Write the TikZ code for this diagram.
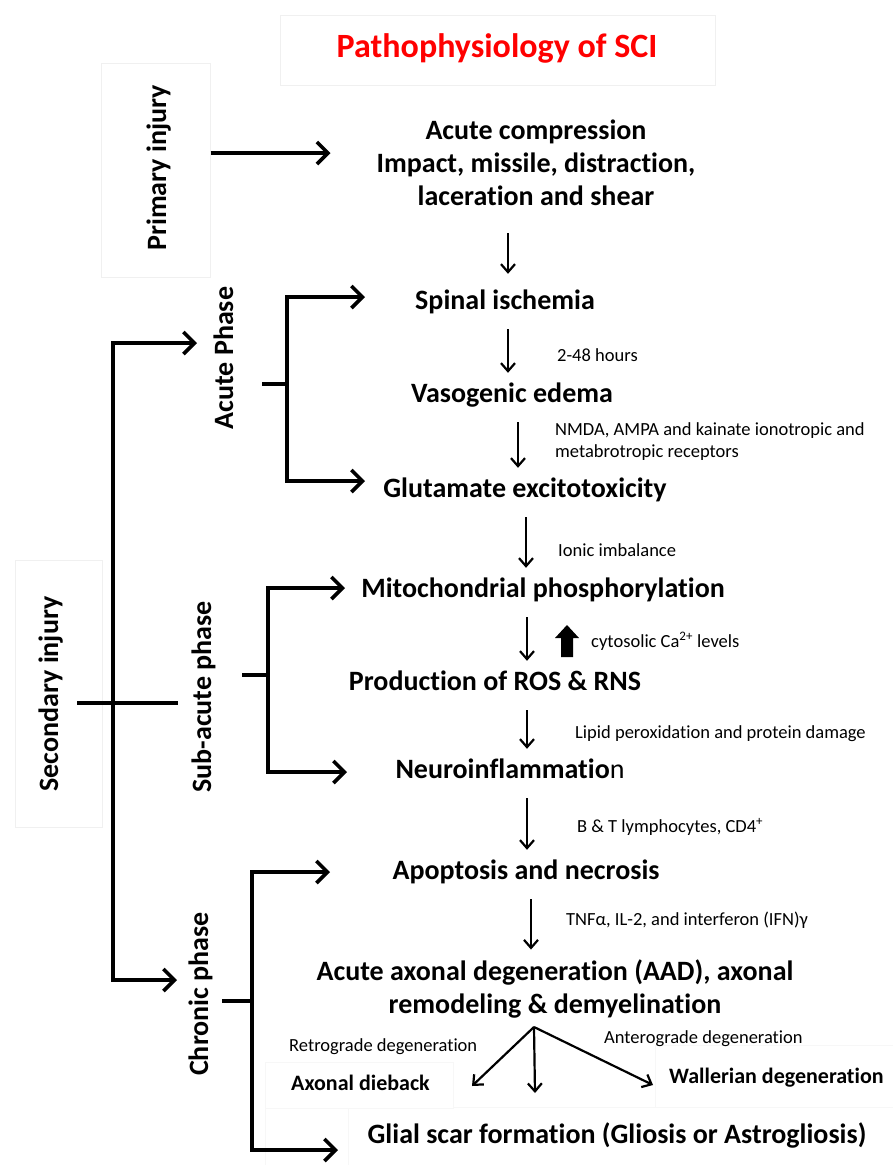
\documentclass[tikz,border=0pt]{standalone}
\usepackage{fontspec}
\setmainfont{Carlito}[Ligatures=NoCommon]
\usetikzlibrary{arrows.meta,calc}

\begin{document}
\begin{tikzpicture}[x=1pt,y=-1pt]
 \tikzstyle{stage} = [font=\fontsize{28}{33}\selectfont\bfseries,inner sep=0,anchor=base,text height=19pt,text depth=6pt]
 \tikzstyle{block} = [font=\fontsize{28}{33}\selectfont\bfseries,inner sep=0,align=center]
 \tikzstyle{note} = [font=\fontsize{18.5}{22}\selectfont,inner sep=0,anchor=base west]
 \tikzstyle{phase} = [font=\fontsize{28}{33}\selectfont\bfseries,inner sep=0,anchor=base,rotate=90]
 \tikzstyle{faint} = [draw=black!6,line width=1pt]
 \tikzstyle{bar} = [line width=3.6pt]
 \tikzstyle{brk} = [line width=3.6pt,-{Straight Barb[length=11pt,width=22pt]}]
 \tikzstyle{dn} = [line width=2.2pt,-{Straight Barb[length=8pt,width=14pt]},shorten <=14pt,shorten >=10pt]

 \useasboundingbox (0,0) rectangle (893,1165);

 % faint frames
 \draw[faint] (280,15) rectangle (715,85);
 \node[faint,minimum width=109,minimum height=214] (pbox) at (155.5,170) {};
 \draw[faint] (15,560) rectangle (102,827);
 \draw[faint,draw=black!3] (265,1062) rectangle (453,1108);
 \draw[faint,draw=black!3] (655,1045) rectangle (893,1107);
 \draw[faint,draw=black!3] (453,1107) -- (655,1107);
 \draw[faint,draw=black!3] (265,1108) rectangle (348,1165);

 % title
 \node[block,text=red,font=\fontsize{34}{40}\selectfont\bfseries,anchor=base] (title) at (497,57) {Pathophysiology of SCI};

 % cascade
 \node[block] (acomp) at (536,163) {Acute compression\\Impact, missile, distraction,\\laceration and shear};
 \node[stage] (spinal) at (505,309) {Spinal ischemia};
 \node[stage] (vaso) at (512,402) {Vasogenic edema};
 \node[stage] (gluta) at (525,497) {Glutamate excitotoxicity};
 \node[stage] (mito) at (543,597) {Mitochondrial phosphorylation};
 \node[stage] (ros) at (495,690) {Production of ROS \& RNS};
 \node[stage] (neuro) at (510,778) {Neuroinflammatio{\mdseries n}};
 \node[stage] (apop) at (526,879) {Apoptosis and necrosis};
 \node[block] (aad) at (555,989) {Acute axonal degeneration (AAD), axonal\\remodeling \& demyelination};
 \node[stage,font=\fontsize{22}{26}\selectfont\bfseries,anchor=base west] (dieback) at (291,1090) {Axonal dieback};
 \node[stage,font=\fontsize{22}{26}\selectfont\bfseries,anchor=base west] (waller) at (669,1083) {Wallerian degeneration};
 \node[stage] (glial) at (617,1143) {Glial scar formation (Gliosis or Astrogliosis)};

 % side notes
 \node[note] (hrs) at (557,361) {2-48 hours};
 \node[note,anchor=north west,align=left] (recep) at (555,422) {NMDA, AMPA and kainate ionotropic and\\metabrotropic receptors};
 \node[note] (ionic) at (558,556) {Ionic imbalance};
 \node[note] (ca) at (591,647) {cytosolic Ca\textsuperscript{2+} levels};
 \node[note] (lipid) at (575,738) {Lipid peroxidation and protein damage};
 \node[note] (lymph) at (577,832) {B \& T lymphocytes, CD4\textsuperscript{+}};
 \node[note] (tnf) at (566,925) {TNFα, IL-2, and interferon (IFN)γ};
 \node[note] (retro) at (289,1051) {Retrograde degeneration};
 \node[note] (antero) at (604,1043) {Anterograde degeneration};
 \fill (561,657) -- (561,638) -- (555,638) -- (567,625) -- (579,638) -- (573,638) -- (573,657) -- cycle;

 % phases
 \node[phase] (prim) at (166,168) {Primary injury};
 \node[phase] (sec) at (58,694) {Secondary injury};
 \node[phase] (acute) at (233,358) {Acute Phase};
 \node[phase] (subac) at (211,697) {Sub-acute phase};
 \node[phase] (chron) at (208,994) {Chronic phase};

 % down the cascade
 \draw[dn,shorten <=27pt,shorten >=16pt] (acomp.south -| 508,0) -- (spinal.north -| 508,0);
 \draw[dn] (spinal.south -| 508,0) -- (vaso.north -| 508,0);
 \draw[dn] (vaso.south -| 518,0) -- (gluta.north -| 518,0);
 \draw[dn] (gluta.south -| 526,0) -- (mito.north -| 526,0);
 \draw[dn] (mito.south -| 527,0) -- (ros.north -| 527,0);
 \draw[dn] (ros.south -| 527,0) -- (neuro.north -| 527,0);
 \draw[dn] (neuro.south -| 527,0) -- (apop.north -| 527,0);
 \draw[dn] (apop.south -| 531,0) -- (aad.north -| 531,0);

 % fork under AAD
 \coordinate (fork) at (534,1027);
 \coordinate (tipl) at (472,1086);
 \coordinate (tipd) at (535,1093);
 \coordinate (tipr) at (653,1085);
 \draw[dn,shorten <=0pt,shorten >=0pt] (fork) -- (tipl);
 \draw[dn,shorten <=0pt,shorten >=0pt] (fork) -- (tipd);
 \draw[dn,shorten <=0pt,shorten >=0pt] (fork) -- (tipr);

 % primary
 \draw[brk] ([yshift=17pt]pbox.east) -- ++(120,0);

 % secondary tree
 \coordinate (sm) at (113,703);
 \coordinate (acin) at (197,343);
 \coordinate (chin) at (177,980);
 \draw[bar] (77,703) -- (178,703);
 \draw[brk] (sm) |- (acin);
 \draw[brk] (sm) |- (chin);

 % acute bracket
 \coordinate (am) at (287,384);
 \draw[bar] (am) -- ++(-25,0);
 \draw[brk] (am) |- (365,297);
 \draw[brk] (am) |- (365,481);

 % sub-acute bracket
 \coordinate (sbm) at (268,675);
 \draw[bar] (sbm) -- ++(-26,0);
 \draw[brk] (sbm) |- (345,588);
 \draw[brk] (sbm) |- (347,772);

 % chronic bracket
 \coordinate (cm) at (252,1001);
 \draw[bar] (cm) -- ++(-30,0);
 \draw[brk] (cm) |- (330,872);
 \draw[brk] (cm) |- (338,1150);
\end{tikzpicture}
\end{document}
